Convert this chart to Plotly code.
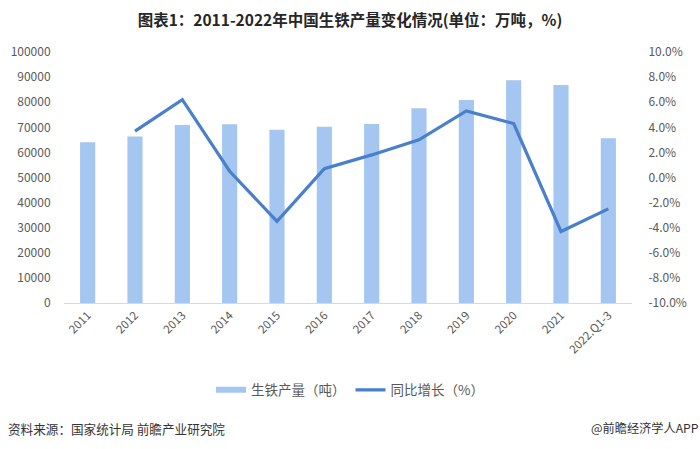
import plotly.graph_objects as go

categories = ["2011", "2012", "2013", "2014", "2015", "2016", "2017", "2018", "2019", "2020", "2021", "2022.Q1-3"]
production = [64000, 66350, 70900, 71200, 69000, 70230, 71360, 77580, 80900, 88750, 86860, 65600]
growth = [None, 3.7, 6.2, 0.5, -3.5, 0.7, 1.8, 3.0, 5.3, 4.3, -4.3, -2.5]
left_ticks = list(range(0, 100001, 10000))
right_ticks = [-10, -8, -6, -4, -2, 0, 2, 4, 6, 8, 10]

FONT = "Noto Sans CJK SC"
TICK_COLOR = "#595959"
BAR_COLOR = "#A4C6F0"
LINE_COLOR = "#4A7FCC"

fig = go.Figure()
fig.add_trace(go.Bar(
    x=categories, y=production, name="生铁产量（吨）",
    marker=dict(color=BAR_COLOR, line=dict(width=0)),
    width=0.32, yaxis="y", showlegend=False,
))
# legend stand-in for the bar series (flat wide swatch like the reference)
fig.add_trace(go.Scatter(
    x=[None], y=[None], name="生铁产量（吨）", mode="lines",
    line=dict(color=BAR_COLOR, width=6), yaxis="y",
))
fig.add_trace(go.Scatter(
    x=categories, y=growth, name="同比增长（%）", mode="lines",
    line=dict(color=LINE_COLOR, width=3.2), yaxis="y2", connectgaps=False,
))

fig.update_layout(
    width=700, height=449,
    margin=dict(l=64, r=68, t=52, b=146),
    paper_bgcolor="white", plot_bgcolor="white",
    font=dict(family=FONT, color=TICK_COLOR, size=11),
    title=dict(
        text="<b>图表1：2011-2022年中国生铁产量变化情况(单位：万吨，%)</b>",
        x=0.5, xanchor="center", y=1 - 21 / 449, yanchor="middle",
        font=dict(family=FONT, size=15.5, color="#262626"),
    ),
    xaxis=dict(
        type="category", tickangle=-45, showgrid=False,
        showline=True, linecolor="#D9D9D9", linewidth=1,
        ticks="", tickfont=dict(size=11.5, color=TICK_COLOR),
    ),
    yaxis=dict(
        range=[0, 100000], tickvals=left_ticks, ticktext=[str(v) for v in left_ticks],
        showgrid=False, zeroline=False, showline=False,
        ticks="outside", ticklen=10, tickcolor="rgba(0,0,0,0)",
        tickfont=dict(size=12, color=TICK_COLOR),
    ),
    yaxis2=dict(
        overlaying="y", side="right", range=[-10, 10],
        tickvals=right_ticks, ticktext=[f"{v:.1f}%" for v in right_ticks],
        showgrid=False, zeroline=False, showline=False,
        ticks="outside", ticklen=13, tickcolor="rgba(0,0,0,0)",
        tickfont=dict(size=12, color=TICK_COLOR),
    ),
    legend=dict(
        orientation="h", xref="container", x=0.5, xanchor="center",
        yref="container", y=1 - 390 / 449, yanchor="middle",
        font=dict(size=13.5, color=TICK_COLOR), traceorder="normal",
        itemwidth=30,
    ),
    showlegend=True,
)

fig.add_annotation(
    text="资料来源：国家统计局 前瞻产业研究院", xref="paper", yref="paper",
    x=-64 / 568, xanchor="left", y=(303 - 428) / 251, yanchor="middle",
    showarrow=False, font=dict(family=FONT, size=12.6, color="#333333"),
    xshift=6,
)
fig.add_annotation(
    text="@前瞻经济学人APP", xref="paper", yref="paper",
    x=(700 - 64) / 568, xanchor="right", y=(303 - 428) / 251, yanchor="middle",
    showarrow=False, font=dict(family=FONT, size=12.2, color="#333333"),
    xshift=1,
)

fig.write_html("out.html")
